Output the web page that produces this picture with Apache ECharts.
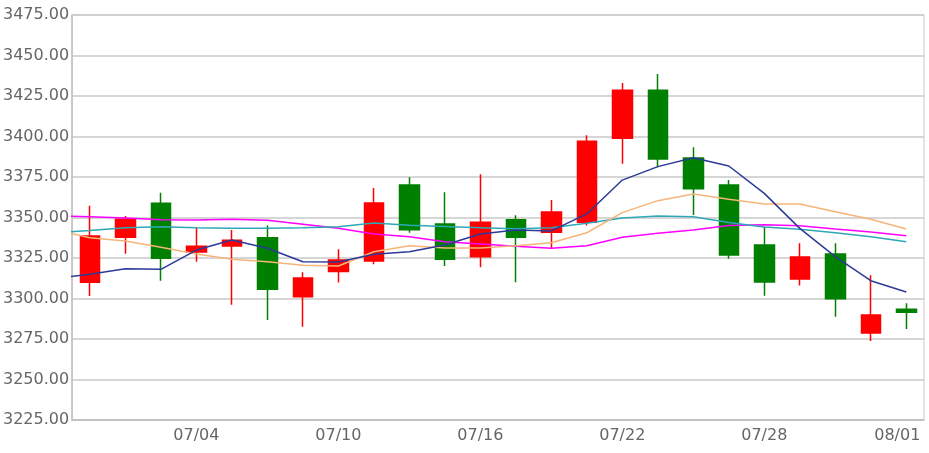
<!DOCTYPE html>
<html>
<head>
<meta charset="utf-8">
<script src="https://cdn.jsdelivr.net/npm/echarts@6/dist/echarts.min.js"></script>
<style>
html,body{margin:0;padding:0;background:#fff;}
#c{width:929px;height:453px;}
</style>
</head>
<body>
<div id="c"></div>
<script>
const dates = ['07/01','07/02','07/03','07/04','07/07','07/08','07/09','07/10','07/11','07/14','07/15','07/16','07/17','07/18','07/21','07/22','07/23','07/24','07/25','07/28','07/29','07/30','07/31','08/01'];
// [open, close, low, high]
const ohlc = [
  [3310.0, 3338.6, 3301.5, 3357.3],
  [3337.8, 3348.9, 3327.7, 3350.9],
  [3358.8, 3324.8, 3311.0, 3365.3],
  [3328.7, 3332.2, 3322.7, 3344.0],
  [3332.4, 3335.9, 3296.2, 3342.3],
  [3337.5, 3305.7, 3286.7, 3345.0],
  [3301.1, 3312.7, 3282.6, 3316.2],
  [3316.6, 3323.8, 3309.8, 3330.4],
  [3323.1, 3359.0, 3321.1, 3368.2],
  [3370.1, 3342.5, 3340.6, 3374.8],
  [3346.0, 3324.2, 3320.1, 3365.6],
  [3325.8, 3347.0, 3319.3, 3376.7],
  [3348.6, 3337.8, 3310.0, 3351.4],
  [3340.9, 3353.4, 3330.7, 3360.8],
  [3347.0, 3397.0, 3345.0, 3400.7],
  [3398.9, 3428.5, 3383.2, 3433.0],
  [3428.5, 3386.1, 3381.0, 3438.6],
  [3386.7, 3367.8, 3351.5, 3393.3],
  [3370.1, 3326.9, 3324.6, 3373.1],
  [3333.0, 3310.2, 3301.7, 3344.3],
  [3312.0, 3325.6, 3308.1, 3334.1],
  [3327.5, 3299.9, 3288.8, 3334.1],
  [3278.7, 3289.8, 3273.8, 3314.3],
  [3293.3, 3291.5, 3281.2, 3297.0]
];
// moving averages; first value belongs to the trading day before the visible window
const ma5  = [3312.4, 3314.9, 3318.4, 3318.0, 3329.9, 3336.1, 3331.0, 3322.7, 3322.5, 3327.3, 3328.9, 3333.0, 3339.8, 3342.3, 3341.7, 3352.2, 3373.1, 3381.4, 3386.9, 3381.8, 3364.9, 3343.3, 3325.8, 3311.0, 3304.0];
const ma10 = [3342.3, 3337.5, 3335.5, 3331.6, 3327.5, 3324.2, 3322.7, 3320.5, 3320.1, 3328.9, 3332.5, 3331.2, 3331.2, 3332.6, 3334.4, 3340.6, 3353.0, 3360.4, 3364.5, 3361.2, 3358.3, 3358.3, 3353.6, 3348.9, 3342.9];
const ma20 = [3340.6, 3341.9, 3343.7, 3344.3, 3343.7, 3343.3, 3343.3, 3343.7, 3344.3, 3346.6, 3345.2, 3344.5, 3343.7, 3343.0, 3343.7, 3346.4, 3349.7, 3350.9, 3350.5, 3346.9, 3344.2, 3342.7, 3340.6, 3338.1, 3335.1];
const ma30 = [3351.1, 3350.5, 3349.7, 3348.6, 3348.5, 3348.9, 3348.3, 3345.8, 3343.3, 3339.8, 3338.1, 3335.1, 3333.6, 3332.2, 3331.0, 3332.6, 3337.8, 3340.3, 3342.3, 3345.0, 3345.6, 3344.9, 3342.9, 3341.0, 3338.8];
const yTicks = [3225, 3475, 25];

function pts(arr){ return arr.map((v,i)=>[i-1, v]); }
function lineSeries(name, arr, color){
  return {name, type:'line', xAxisIndex:1, data:pts(arr), symbol:'none', smooth:false,
    clip:true, lineStyle:{color, width:1.5}, itemStyle:{color}, animation:false, z:3};
}

const chart = echarts.init(document.getElementById('c'));
chart.setOption({
  animation:false,
  grid:{left:71, right:5, top:15, bottom:33, show:true, borderColor:'#c8c8c8', borderWidth:1},
  xAxis:[{
    type:'category', data:dates, boundaryGap:true,
    axisLine:{onZero:false, lineStyle:{color:'#c0c0c0', width:1.5}},
    axisTick:{show:false},
    axisLabel:{
      interval:(i)=> i % 4 === 3,
      color:'#666', fontFamily:'DejaVu Sans', fontSize:16, margin:8,
      formatter:(v, i)=> i === dates.length-1 ? '{last|'+v+'}' : v,
      rich:{last:{padding:[0,18,0,0], color:'#666', fontFamily:'DejaVu Sans', fontSize:16}}
    },
    splitLine:{show:false}
  },{
    type:'value', min:-0.5, max:23.5, show:false
  }],
  yAxis:{
    type:'value', min:yTicks[0], max:yTicks[1], interval:yTicks[2],
    axisLine:{show:true, onZero:false, lineStyle:{color:'#c0c0c0', width:1.5}},
    axisTick:{show:false},
    axisLabel:{color:'#666', fontFamily:'DejaVu Sans', fontSize:16, margin:3,
      formatter:(v)=>v.toFixed(2)},
    splitLine:{lineStyle:{color:'#c8c8c8', width:1.5}}
  },
  series:[
    {type:'candlestick', data:ohlc, barWidth:20, z:2,
      itemStyle:{color:'#ff0000', color0:'#008000', borderColor:'#ff0000', borderColor0:'#008000', borderWidth:1.5}},
    lineSeries('MA30', ma30, '#ff00ff'),
    lineSeries('MA20', ma20, '#2ea8b6'),
    lineSeries('MA10', ma10, '#f5b578'),
    lineSeries('MA5', ma5, '#2b3a98')
  ]
});
</script>
</body>
</html>
